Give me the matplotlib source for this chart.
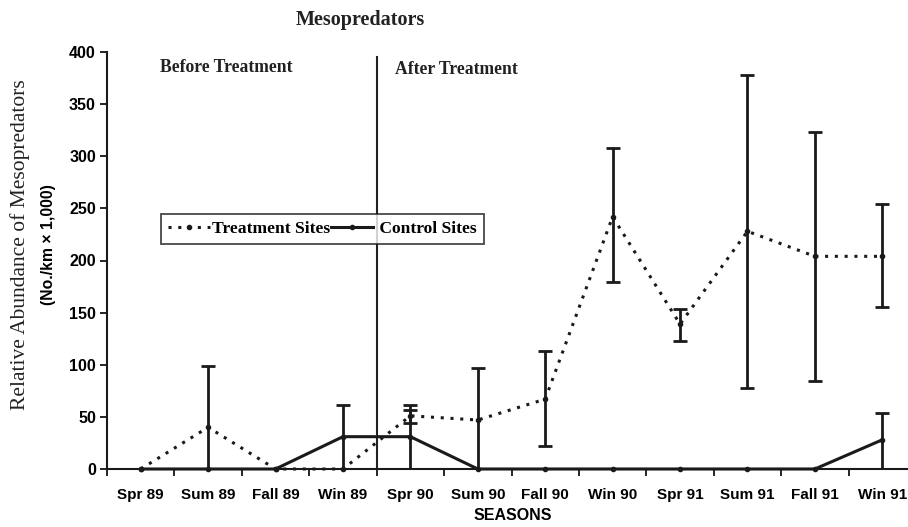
import matplotlib
matplotlib.use("Agg")
import matplotlib.pyplot as plt
import numpy as np
from matplotlib.lines import Line2D

seasons = ["Spr 89", "Sum 89", "Fall 89", "Win 89", "Spr 90", "Sum 90",
           "Fall 90", "Win 90", "Spr 91", "Sum 91", "Fall 91", "Win 91"]
treatment = [0, 40, 0, 0, 51, 47, 67, 242, 139, 228, 204, 204]
treat_upper = [0, 99, 0, 0, 61, 97, 113, 308, 153, 378, 323, 254]
treat_lower = [0, 0, 0, 0, 44, 0, 22, 179, 123, 78, 84, 155]
control = [0, 0, 0, 31, 31, 0, 0, 0, 0, 0, 0, 28]
ctrl_upper = [0, 0, 0, 61, 57, 0, 0, 0, 0, 0, 0, 54]
ctrl_lower = [0, 0, 0, 0, 0, 0, 0, 0, 0, 0, 0, 0]
yticks = [0, 50, 100, 150, 200, 250, 300, 350, 400]

serif = "Liberation Serif"
sans = "Liberation Sans"
ink = "#1a1a1a"

fig = plt.figure(figsize=(9.08, 5.27), dpi=100)
ax = fig.add_axes([107/908, 58/527, 809/908, 417/527])

x = np.arange(len(seasons))
t = np.array(treatment); c = np.array(control)
terr = [t - np.array(treat_lower), np.array(treat_upper) - t]
cerr = [c - np.array(ctrl_lower), np.array(ctrl_upper) - c]

# treatment boundary line
ax.plot([3.5, 3.5], [0, 395], color="#222222", lw=1.5, zorder=1)

ax.errorbar(x, t, yerr=terr, fmt="none", ecolor=ink, elinewidth=2,
            capsize=5, capthick=2, zorder=3)
ax.errorbar(x, c, yerr=cerr, fmt="none", ecolor=ink, elinewidth=2,
            capsize=5, capthick=2, zorder=3)
ax.plot(x, t, linestyle=(0, (1, 2.2)), color=ink, lw=2.2,
        marker="o", ms=3, zorder=4, clip_on=False)
ax.plot(x, c, linestyle="-", color=ink, lw=2.2,
        marker="o", ms=3, zorder=4, clip_on=False)

ax.set_xlim(-0.5, 11.5)
ax.set_ylim(0, 400)
ax.set_yticks(yticks)
ax.set_yticklabels([str(v) for v in yticks], fontfamily=sans,
                   fontweight="bold", fontsize=11.5)
ax.set_xticks(np.arange(-0.5, 11.6, 1.0))
ax.set_xticklabels([])
ax.set_xticks(x, minor=True)
ax.set_xticklabels(seasons, minor=True, fontfamily=sans,
                   fontweight="bold", fontsize=11)
ax.tick_params(axis="x", which="minor", length=0, pad=14)
ax.tick_params(axis="x", which="major", length=5, width=1.2, direction="out")
ax.tick_params(axis="y", length=5, width=1.2, direction="out", pad=3)
for s in ["top", "right"]:
    ax.spines[s].set_visible(False)
for s in ["left", "bottom"]:
    ax.spines[s].set_linewidth(1.5)
    ax.spines[s].set_color(ink)

fig.text(360/908, 1 - 20/527, "Mesopredators", ha="center", va="center",
         fontfamily=serif, fontweight="bold", fontsize=14.5, color="#222222")
fig.text(513/908, 1 - 515/527, "SEASONS", ha="center", va="center",
         fontfamily=sans, fontweight="bold", fontsize=11.5)
fig.text(20/908, 1 - 245/527, "Relative Abundance of Mesopredators",
         rotation=90, ha="center", va="center", fontfamily=serif,
         fontweight="normal", fontsize=15.5, color="#222222")
fig.text(48/908, 1 - 245/527, "(No./km × 1,000)", rotation=90,
         ha="center", va="center", fontfamily=sans, fontweight="bold",
         fontsize=11.3)
fig.text(160/908, 1 - 68/527, "Before Treatment",
         ha="left", va="center", fontfamily=serif, fontweight="bold",
         fontsize=12.7, color="#222222")
fig.text(395/908, 1 - 70/527, "After Treatment",
         ha="left", va="center", fontfamily=serif, fontweight="bold",
         fontsize=12.7, color="#222222")

handles = [Line2D([], [], linestyle=(0, (1, 2.2)), color=ink, lw=2.2,
                  marker="o", ms=3),
           Line2D([], [], linestyle="-", color=ink, lw=2.2,
                  marker="o", ms=3)]
leg = ax.legend(handles, ["Treatment Sites", " Control Sites"], ncol=2,
                loc="center left", bbox_to_anchor=(152/908, 1 - 229/527),
                bbox_transform=fig.transFigure, frameon=True, fancybox=False,
                edgecolor=ink, handlelength=2.4, handletextpad=0.1,
                columnspacing=0.1, borderpad=0.4,
                prop={"family": serif, "weight": "bold", "size": 12.6})
leg.get_frame().set_linewidth(1.3)
leg.set_zorder(10)

fig.savefig("out.png", dpi=100, facecolor="white")
